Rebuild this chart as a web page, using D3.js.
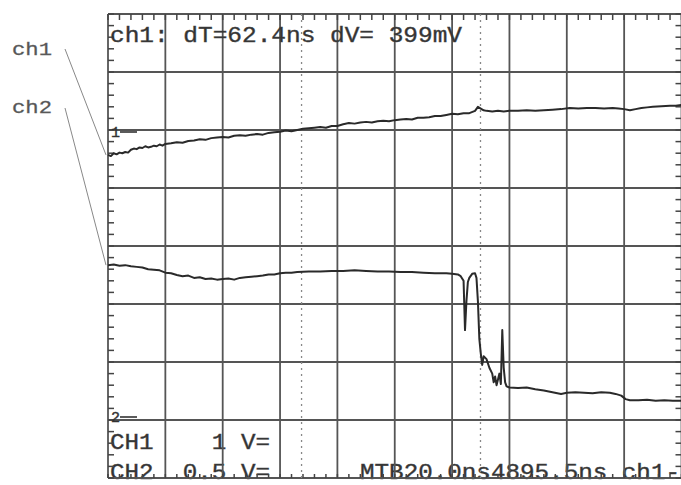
<!DOCTYPE html>
<html>
<head>
<meta charset="utf-8">
<script src="https://cdn.jsdelivr.net/npm/d3@7"></script>
<style>
  body { margin: 0; background: #fff; }
  text { font-family: "Liberation Mono", "Courier New", monospace; }
</style>
</head>
<body>
<div id="chart-area"></div>
<script>
// time axis in ns (20 ns/div, 10 div), vertical axis in screen divisions (8 div)
var ch1Time = [0,1,2,3,4,5,6,7,8,9,10,11,12,13,14,15,16,17,18,19,20,22,24,26,28,30,32,34,36,38,40,42,44,46,48,50,52,54,56,58,60,62,64,66,68,70,72,74,76,78,80,82,84,86,88,90,92,94,96,98,100,102,104,106,108,110,112,114,116,118,120,122,124,126,128,129,130,131,132,134,136,138,140,143,146,149,152,155,158,161,164,167,170,173,176,178,180,182,184,186,188,190,193,196,198,200];
var ch1Div = [1.57,1.55,1.60,1.58,1.61,1.60,1.62,1.61,1.66,1.68,1.67,1.70,1.69,1.72,1.70,1.71,1.73,1.72,1.75,1.73,1.76,1.77,1.79,1.78,1.81,1.82,1.84,1.83,1.86,1.87,1.88,1.87,1.90,1.91,1.90,1.92,1.93,1.92,1.95,1.96,1.97,1.99,1.98,2.00,2.02,2.03,2.04,2.05,2.04,2.07,2.07,2.10,2.12,2.11,2.13,2.14,2.13,2.15,2.16,2.15,2.17,2.18,2.19,2.18,2.21,2.21,2.22,2.24,2.24,2.26,2.28,2.27,2.29,2.29,2.33,2.40,2.37,2.34,2.33,2.32,2.33,2.32,2.33,2.33,2.34,2.33,2.34,2.35,2.36,2.38,2.37,2.38,2.38,2.37,2.38,2.37,2.36,2.34,2.36,2.38,2.39,2.40,2.41,2.42,2.42,2.43];

var ch2Time = [0,2,4,6,8,10,12,14,16,18,20,22,24,26,28,30,32,34,36,38,40,42,44,46,48,50,52,54,56,58,60,62,64,66,70,74,78,82,86,90,94,98,102,106,110,114,118,120,122,123,124,124.5,125,125.5,126,127,128,128.5,129,129.5,130,130.5,131,132,133,134,134.5,135,135.5,136,136.5,137,137.5,138,138.5,139,140,143,146,149,152,155,158,160,163,166,169,172,175,177,179,180.5,182,185,188,191,194,197,200];
var ch2Div = [-0.33,-0.32,-0.34,-0.33,-0.35,-0.36,-0.37,-0.40,-0.41,-0.42,-0.46,-0.47,-0.50,-0.52,-0.51,-0.55,-0.54,-0.57,-0.56,-0.58,-0.57,-0.56,-0.58,-0.55,-0.54,-0.53,-0.52,-0.51,-0.49,-0.49,-0.47,-0.46,-0.46,-0.45,-0.44,-0.44,-0.43,-0.43,-0.42,-0.43,-0.44,-0.44,-0.45,-0.45,-0.46,-0.47,-0.47,-0.48,-0.49,-0.52,-0.60,-1.45,-0.95,-0.62,-0.55,-0.48,-0.47,-0.55,-0.95,-1.60,-1.85,-2.05,-1.90,-1.95,-2.10,-2.20,-2.35,-2.25,-2.40,-2.30,-2.20,-2.38,-1.45,-2.10,-2.35,-2.42,-2.44,-2.45,-2.44,-2.47,-2.49,-2.52,-2.55,-2.53,-2.52,-2.53,-2.54,-2.52,-2.53,-2.55,-2.58,-2.64,-2.66,-2.66,-2.65,-2.67,-2.66,-2.67,-2.67];

var cursorTimes = [67.5, 129.9];
var headerText = "ch1: dT=62.4ns dV= 399mV";
var footLeft = ["CH1    1 V=", "CH2  0.5 V="];
var footRight = "MTB20.0ns4895.5ns ch1-";
var channelNames = ["ch1", "ch2"];

var width = 681, height = 485;

var svg = d3.select("#chart-area").append("svg")
    .attr("width", width)
    .attr("height", height);

svg.append("rect").attr("width", width).attr("height", height).attr("fill", "#fff");

var x = d3.scaleLinear().domain([0, 200]).range([108, 681.5]);
var y = d3.scaleLinear().domain([-4, 4]).range([478, 14]);

// footer readouts go under the grid so the bottom frame runs over them
svg.selectAll(".footl").data(footLeft).enter()
    .append("text")
        .attr("x", 110).attr("y", (d, i) => 449 + i * 30)
        .attr("font-size", 22).attr("fill", "#333")
        .attr("stroke", "#444").attr("stroke-width", 0.4)
        .attr("textLength", 160).attr("lengthAdjust", "spacingAndGlyphs")
        .style("white-space", "pre")
        .text((d) => d);

svg.append("text")
    .attr("x", 360).attr("y", 479)
    .attr("font-size", 22).attr("fill", "#333")
    .attr("stroke", "#444").attr("stroke-width", 0.4)
    .attr("textLength", 320).attr("lengthAdjust", "spacingAndGlyphs")
    .text(footRight);

var grid = svg.append("g");

// major grid lines
grid.selectAll(".vline").data(d3.range(0, 201, 20)).enter()
    .append("line")
        .attr("x1", (d) => x(d)).attr("x2", (d) => x(d))
        .attr("y1", y(4)).attr("y2", y(-4))
        .attr("stroke", "#555").attr("stroke-width", 1.8);

grid.selectAll(".hline").data(d3.range(-4, 4.01, 1)).enter()
    .append("line")
        .attr("x1", x(0)).attr("x2", x(200))
        .attr("y1", (d) => y(d)).attr("y2", (d) => y(d))
        .attr("stroke", "#555").attr("stroke-width", 1.8);

// minor ticks on the frame edges
var minorX = d3.range(0, 201, 4);
var minorY = d3.range(-4, 4.01, 0.2);

grid.selectAll(".ttop").data(minorX).enter()
    .append("line")
        .attr("x1", (d) => x(d)).attr("x2", (d) => x(d))
        .attr("y1", y(4)).attr("y2", y(4) + 6)
        .attr("stroke", "#444").attr("stroke-width", 1.5);

grid.selectAll(".tbot").data(minorX).enter()
    .append("line")
        .attr("x1", (d) => x(d)).attr("x2", (d) => x(d))
        .attr("y1", y(-4)).attr("y2", y(-4) - 4)
        .attr("stroke", "#444").attr("stroke-width", 1.5);

grid.selectAll(".tleft").data(minorY).enter()
    .append("line")
        .attr("x1", x(0)).attr("x2", x(0) + 6)
        .attr("y1", (d) => y(d)).attr("y2", (d) => y(d))
        .attr("stroke", "#444").attr("stroke-width", 1.5);

grid.selectAll(".tright").data(minorY).enter()
    .append("line")
        .attr("x1", x(200)).attr("x2", x(200) - 6)
        .attr("y1", (d) => y(d)).attr("y2", (d) => y(d))
        .attr("stroke", "#444").attr("stroke-width", 1.5);

// time cursors (dotted)
grid.selectAll(".cursor").data(cursorTimes).enter()
    .append("line")
        .attr("x1", (d) => x(d)).attr("x2", (d) => x(d))
        .attr("y1", y(4)).attr("y2", y(-4))
        .attr("stroke", "#888").attr("stroke-width", 1.3)
        .attr("stroke-dasharray", "2,4");

// traces
var line = d3.line()
    .x((d) => x(d[0]))
    .y((d) => y(d[1]));

var traces = [d3.zip(ch1Time, ch1Div), d3.zip(ch2Time, ch2Div)];

svg.selectAll(".trace").data(traces).enter()
    .append("path")
        .attr("d", line)
        .attr("fill", "none")
        .attr("stroke", "#2a2a2a")
        .attr("stroke-width", 2)
        .attr("stroke-linejoin", "round");

// ground markers
var markers = [{label: "1", v: 2, dy: 7}, {label: "2", v: -3, dy: 2}];
markers.forEach((m) => {
    svg.append("text")
        .attr("x", x(0) + 3).attr("y", y(m.v) + m.dy)
        .attr("font-size", 15).attr("fill", "#333")
        .attr("stroke", "#333").attr("stroke-width", 0.4)
        .text(m.label);
    svg.append("line")
        .attr("x1", x(0) + 12).attr("x2", x(0) + 29)
        .attr("y1", y(m.v) + m.dy - 5).attr("y2", y(m.v) + m.dy - 5)
        .attr("stroke", "#333").attr("stroke-width", 1.6);
});

// header readout
svg.append("text")
    .attr("x", 110).attr("y", 42)
    .attr("font-size", 22).attr("fill", "#333")
    .attr("stroke", "#444").attr("stroke-width", 0.4)
    .attr("textLength", 352).attr("lengthAdjust", "spacingAndGlyphs")
    .text(headerText);

// channel labels with leader lines
var chanY = [2 - 0.43, -0.33];
svg.selectAll(".chlabel").data(channelNames).enter()
    .append("text")
        .attr("x", 12).attr("y", (d, i) => 55 + i * 58)
        .attr("font-size", 19).attr("fill", "#555")
        .attr("stroke", "#666").attr("stroke-width", 0.3)
        .attr("textLength", 40).attr("lengthAdjust", "spacingAndGlyphs")
        .text((d) => d);

svg.selectAll(".leader").data(chanY).enter()
    .append("line")
        .attr("x1", 65).attr("y1", (d, i) => 49 + i * 59)
        .attr("x2", x(0) - 2).attr("y2", (d) => y(d))
        .attr("stroke", "#888").attr("stroke-width", 1);
</script>
</body>
</html>
